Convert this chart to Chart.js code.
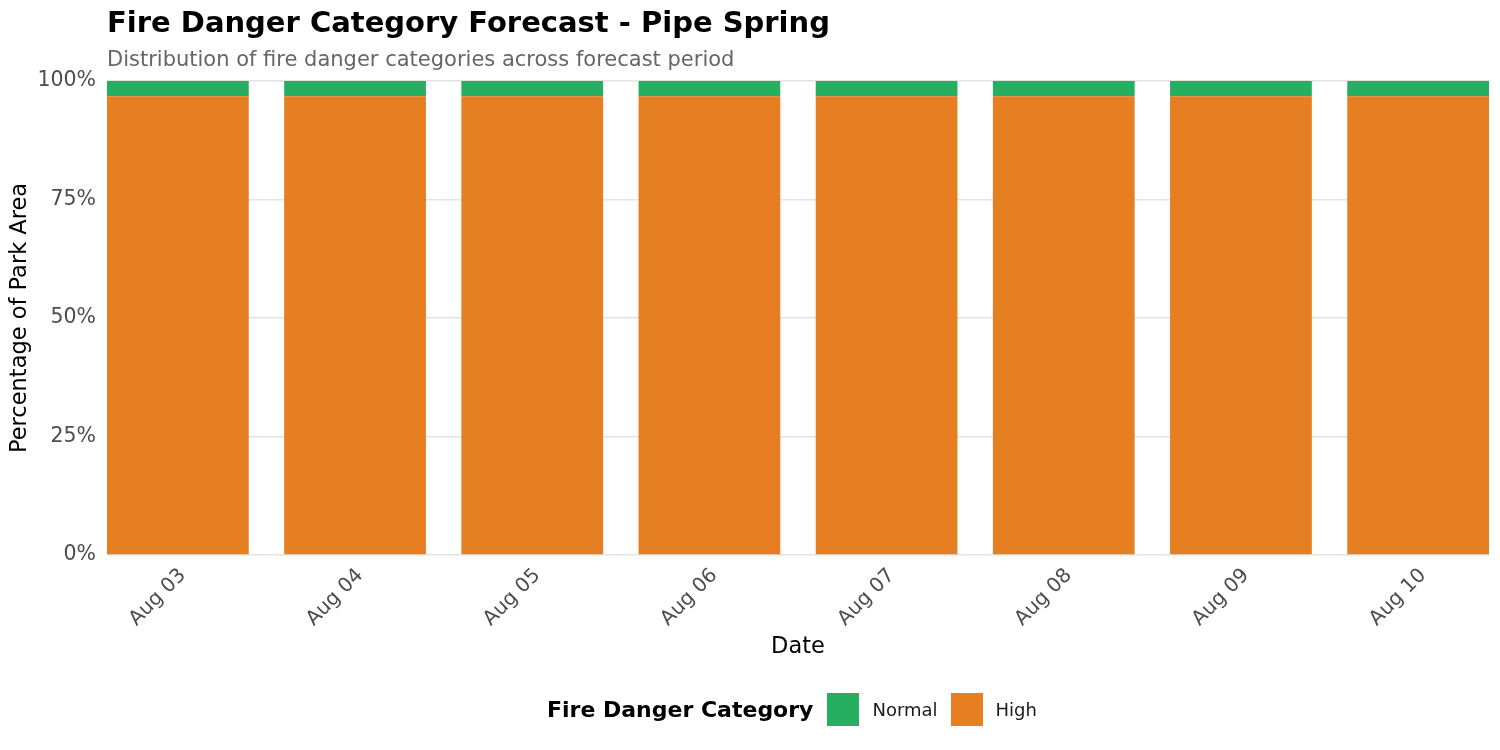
<!DOCTYPE html>
<html lang="en">
<head>
  <meta charset="utf-8" />
  <title>Fire Danger Category Forecast - Pipe Spring</title>
  <script src="https://cdn.jsdelivr.net/npm/chart.js"></script>
  <style>
    html, body { margin: 0; padding: 0; background: #fff; overflow: hidden; }
    #wrap { position: relative; width: 1500px; height: 750px; }
    #legend {
      position: absolute; left: 547px; top: 693px; height: 33px;
      display: flex; align-items: center;
      font-family: "DejaVu Sans", sans-serif;
    }
    #legend .ttl { font-weight: bold; font-size: 22px; margin-right: 14px; }
    #legend .box { width: 32px; height: 33px; display: inline-block; }
    #legend .lbl { font-size: 18px; margin: 0 13px 0 13px; color: #1a1a1a; }
  </style>
</head>
<body>
  <div id="wrap">
    <canvas id="fireChart" width="1500" height="750"></canvas>
    <div id="legend"></div>
  </div>

  <script>
    const dates     = ['Aug 03', 'Aug 04', 'Aug 05', 'Aug 06', 'Aug 07', 'Aug 08', 'Aug 09', 'Aug 10'];
    const normalPct = [3.2, 3.2, 3.2, 3.2, 3.2, 3.2, 3.2, 3.2];
    const highPct   = [96.8, 96.8, 96.8, 96.8, 96.8, 96.8, 96.8, 96.8];
    const yTicks    = [0, 25, 50, 75, 100];

    const categories = [
      { name: 'Normal', color: '#27AE60', values: normalPct },
      { name: 'High',   color: '#E67E22', values: highPct }
    ];

    const font = '"DejaVu Sans", sans-serif';

    // stacking goes bottom up, so High first
    const datasets = categories.slice().reverse().map(c => ({
      label: c.name,
      data: dates.map((d, i) => ({ x: i + 1, y: c.values[i] })),
      backgroundColor: c.color,
      borderWidth: 0,
      categoryPercentage: 1,
      barPercentage: 0.8
    }));

    const ctx = document.getElementById('fireChart').getContext('2d');
    const chart = new Chart(ctx, {
      type: 'bar',
      data: { datasets: datasets },
      options: {
        responsive: false,
        animation: false,
        layout: { padding: { left: 7, right: 11, top: 0, bottom: 89 } },
        scales: {
          x: {
            type: 'linear',
            stacked: true,
            offset: false,
            min: 0.6,
            max: 8.4,
            grid: { display: false },
            border: { display: false },
            afterBuildTicks: axis => { axis.ticks = dates.map((d, i) => ({ value: i + 1 })); },
            // rotated labels sit well inside the bars, no extra side room needed
            afterFit: axis => { axis.paddingLeft = 0; axis.paddingRight = 0; },
            ticks: {
              autoSkip: false,
              maxRotation: 45,
              minRotation: 45,
              padding: 1,
              labelOffset: 5,
              color: '#4d4d4d',
              font: { family: font, size: 20 },
              callback: v => dates[v - 1]
            },
            title: {
              display: true,
              text: 'Date',
              color: '#000',
              font: { family: font, size: 22.5 },
              padding: { top: 2, bottom: 0 }
            }
          },
          y: {
            stacked: true,
            min: 0,
            max: 100,
            afterBuildTicks: axis => { axis.ticks = yTicks.map(v => ({ value: v })); },
            afterFit: axis => { axis.width = 100; },
            grid: { color: '#e3e3e3', lineWidth: 1.4, drawTicks: false },
            border: { display: false },
            ticks: {
              padding: 11,
              color: '#4d4d4d',
              font: { family: font, size: 20.5 },
              callback: v => v + '%'
            },
            title: {
              display: true,
              text: 'Percentage of Park Area',
              color: '#000',
              font: { family: font, size: 22.5 },
              padding: { top: 0, bottom: 6 }
            }
          }
        },
        plugins: {
          legend: { display: false },
          tooltip: { enabled: false },
          title: {
            display: true,
            text: 'Fire Danger Category Forecast - Pipe Spring',
            align: 'start',
            fullSize: false,
            color: '#000',
            font: { family: font, size: 29, weight: 'bold' },
            padding: { top: 7, bottom: 6 }
          },
          subtitle: {
            display: true,
            text: 'Distribution of fire danger categories across forecast period',
            align: 'start',
            fullSize: false,
            color: '#666666',
            font: { family: font, size: 21 },
            padding: { top: 0, bottom: 8 }
          }
        }
      }
    });

    // legend laid out like the ggplot one: title and keys on one row
    const legend = document.getElementById('legend');
    let html = '<span class="ttl">Fire Danger Category</span>';
    categories.forEach(c => {
      html += '<span class="box" style="background:' + c.color + '"></span>' +
              '<span class="lbl">' + c.name + '</span>';
    });
    legend.innerHTML = html;
  </script>
</body>
</html>
